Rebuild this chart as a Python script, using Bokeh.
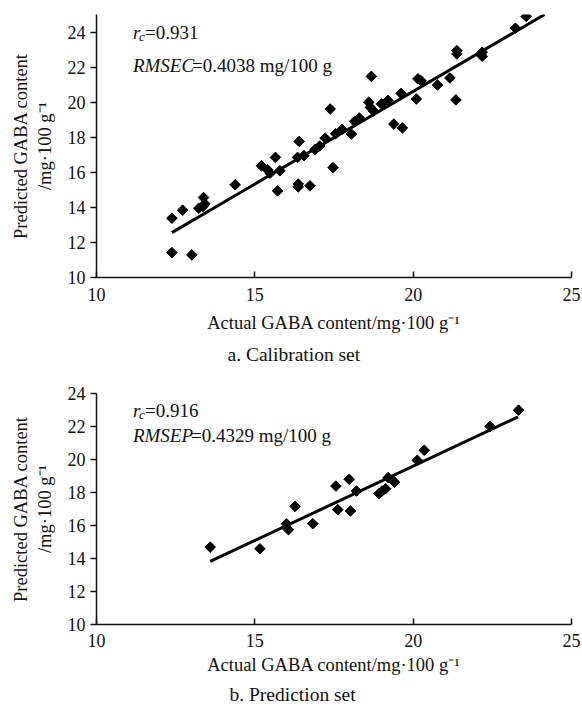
from bokeh.plotting import figure
from bokeh.models import Label, Title, FixedTicker, Range1d, ColumnDataSource
from bokeh.layouts import column
from bokeh.embed import file_html
from bokeh.resources import INLINE
import math

FONT = "Liberation Serif"

# ---- calibration set ----
cal_actual = [12.38, 12.38, 12.72, 13.01, 13.23, 13.36, 13.42, 13.38, 14.38, 15.21,
              15.40, 15.48, 15.65, 15.72, 15.79, 16.35, 16.40, 16.37, 16.37, 16.55,
              16.74, 16.90, 17.05, 17.22, 17.38, 17.47, 17.55, 17.75, 18.05, 18.15,
              18.30, 18.60, 18.65, 18.68, 18.75, 19.00, 19.20, 19.39, 19.66, 19.62,
              20.10, 20.15, 20.25, 20.77, 21.16, 21.35, 21.38, 21.38, 22.18, 22.18,
              23.23, 23.57]
cal_pred = [13.38, 11.42, 13.84, 11.29, 13.95, 14.05, 14.20, 14.56, 15.29, 16.37,
            16.15, 15.95, 16.85, 14.94, 16.09, 16.85, 17.76, 15.33, 15.17, 16.95,
            15.23, 17.30, 17.50, 17.95, 19.61, 16.27, 18.20, 18.45, 18.18, 18.90,
            19.10, 20.00, 19.70, 21.47, 19.50, 19.90, 20.10, 18.75, 18.53, 20.50,
            20.18, 21.33, 21.22, 20.98, 21.38, 20.13, 22.94, 22.75, 22.85, 22.62,
            24.22, 24.89]
cal_line_x = [12.38, 24.15]
cal_line_y = [12.56, 25.0]

# ---- prediction set ----
pre_actual = [13.59, 15.16, 16.00, 16.06, 16.27, 16.83, 17.56, 17.62, 17.98, 18.02,
              18.21, 18.92, 19.02, 19.13, 19.21, 19.41, 20.13, 20.35, 22.43, 23.33]
pre_pred = [14.69, 14.59, 16.11, 15.75, 17.16, 16.11, 18.39, 16.96, 18.80, 16.88,
            18.09, 17.93, 18.09, 18.23, 18.90, 18.63, 19.95, 20.56, 22.01, 22.99]
pre_line_x = [13.59, 23.31]
pre_line_y = [13.82, 22.58]

x_ticks = [10, 15, 20, 25]
y_ticks = [10, 12, 14, 16, 18, 20, 22, 24]

x_title = "Actual GABA content/mg\u00b7100 g\u207b\u00b9"
y_title = "Predicted GABA content\n/mg\u00b7100 g\u207b\u00b9"


def make_fig(ax, pr, lx, ly, y_end, height, top_b, bot_b, r_text, rm_name, rm_text,
             rm_off, row1_y, row2_y, caption, cap_left, lab_standoff, title_standoff,
             cap_standoff):
    p = figure(width=582, height=height, output_backend="svg", toolbar_location=None,
               x_range=Range1d(10, 25), y_range=Range1d(10, y_end),
               min_border_left=96, min_border_right=11,
               min_border_top=top_b, min_border_bottom=bot_b)
    p.outline_line_color = None
    p.grid.visible = False
    p.background_fill_color = "white"
    p.border_fill_color = "white"

    src = ColumnDataSource(dict(x=ax, y=pr))
    p.scatter("x", "y", source=src, marker="square", size=7.5, angle=math.pi / 4,
              fill_color="black", line_color="black")
    p.line(lx, ly, line_color="black", line_width=3)

    for a in (p.xaxis[0], p.yaxis[0]):
        a.axis_line_width = 1.5
        a.axis_line_color = "#111111"
        a.major_tick_line_color = "#111111"
        a.major_tick_line_width = 1.5
        a.minor_tick_line_color = None
        a.major_label_text_font = FONT
        a.major_label_text_font_size = "18px"
        a.major_label_text_color = "#111111"
        a.axis_label_text_font = FONT
        a.axis_label_text_font_size = "18.5px"
        a.axis_label_text_font_style = "normal"
        a.axis_label_text_color = "#111111"

    xa = p.xaxis[0]
    xa.ticker = FixedTicker(ticks=x_ticks)
    xa.major_tick_in = 6
    xa.major_tick_out = 0
    xa.major_label_standoff = lab_standoff
    xa.axis_label = x_title
    xa.axis_label_standoff = title_standoff

    ya = p.yaxis[0]
    ya.ticker = FixedTicker(ticks=y_ticks)
    ya.major_tick_in = 0
    ya.major_tick_out = 6
    ya.major_label_standoff = 5
    ya.axis_label = y_title
    ya.axis_label_standoff = 10

    x0 = 11.15
    common = dict(text_font=FONT, text_color="#111111", text_baseline="alphabetic")
    p.add_layout(Label(x=x0, y=row1_y, text="r", text_font_style="italic",
                       text_font_size="19px", **common))
    p.add_layout(Label(x=x0, y=row1_y, x_offset=6, y_offset=-4, text="c",
                       text_font_style="italic", text_font_size="13px", **common))
    p.add_layout(Label(x=x0, y=row1_y, x_offset=12, text=r_text,
                       text_font_size="19px", **common))
    p.add_layout(Label(x=x0, y=row2_y, text=rm_name, text_font_style="italic",
                       text_font_size="19px", **common))
    p.add_layout(Label(x=x0, y=row2_y, x_offset=rm_off, text=rm_text,
                       text_font_size="19px", **common))

    p.add_layout(Title(text=caption, align="left", offset=cap_left, standoff=cap_standoff,
                       text_font=FONT, text_font_size="19.5px", text_font_style="normal",
                       text_color="#111111"), "below")
    return p


p1 = make_fig(cal_actual, cal_pred, cal_line_x, cal_line_y, 25, 372, 14, 95,
              "=0.931", "RMSEC", "=0.4038 mg/100 g", 59, 24.0, 22.1,
              "a. Calibration set", 131, 10, 9, 13)
p2 = make_fig(pre_actual, pre_pred, pre_line_x, pre_line_y, 24, 339, 21, 87,
              "=0.916", "RMSEP", "=0.4329 mg/100 g", 58, 22.94, 21.48,
              "b. Prediction set", 133, 9, 5, 8)

layout = column(p1, p2, spacing=0)
open("out.html", "w").write(file_html(layout, INLINE))
